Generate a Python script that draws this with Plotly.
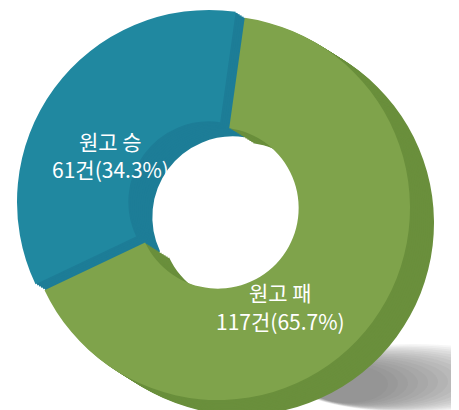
import plotly.graph_objects as go

# ---- data ----
labels = ["원고 패", "원고 승"]
values = [117, 61]
unit = "건"

# ---- style ----
face_colors = ["#7fa34b", "#2088a0"]
side_colors = ["#6a8f3c", "#1d7d97"]
CLEAR = "rgba(0,0,0,0)"

W, H = 459, 410
cx, cy = 210, 200      # front-face centre (px)
r = 192                # front-face radius (px)
hole = 0.42
depth = (24, 15)       # extrusion offset (px)
n_layers = 12
rotation = 8
pull_vec = [(0, 0), (-9, -6)]   # exploded offset of each slice (px)

total = sum(values)
pct = [v / total * 100 for v in values]


def domain(cxp, cyp):
    return dict(x=[(cxp - r) / W, (cxp + r) / W],
                y=[1 - (cyp + r) / H, 1 - (cyp - r) / H])


fig = go.Figure()
common = dict(values=values, labels=labels, hole=hole, sort=False,
              direction="clockwise", rotation=rotation,
              textinfo="none", hoverinfo="skip", showlegend=False)


def slice_trace(i, color, ox, oy):
    cols = [CLEAR] * len(values)
    cols[i] = color
    px, py = pull_vec[i]
    return go.Pie(marker=dict(colors=cols, line=dict(width=0)),
                  domain=domain(cx + px + ox, cy + py + oy), **common)


for k in range(n_layers, 0, -1):
    ox = depth[0] * k / n_layers
    oy = depth[1] * k / n_layers
    for i in range(len(values)):
        fig.add_trace(slice_trace(i, side_colors[i], ox, oy))

for i in range(len(values)):
    fig.add_trace(slice_trace(i, face_colors[i], 0, 0))

# soft shadow at lower right
shapes = []
steps = 16
for s in range(steps):
    t = s / (steps - 1)
    xc = 405 - 65 * t
    yc = 370 + 6 * t
    w = 250 - 170 * t
    h = 68 - 30 * t
    shapes.append(dict(type="circle", xref="paper", yref="paper",
                       x0=(xc - w / 2) / W, x1=(xc + w / 2) / W,
                       y0=1 - (yc + h / 2) / H, y1=1 - (yc - h / 2) / H,
                       fillcolor="rgba(80,80,80,0.05)", line=dict(width=0),
                       layer="below"))

label_pos = [(272, 284, 313), (102, 133, 161)]
annotations = []
for lab, v, p, (ax, y1, y2) in zip(labels, values, pct, label_pos):
    for txt, yy in ((lab, y1), (f"{v}{unit}({p:.1f}%)", y2)):
        annotations.append(dict(
            text=txt, x=ax / W, y=1 - yy / H,
            xref="paper", yref="paper", showarrow=False,
            xanchor="center", yanchor="middle", align="center",
            font=dict(family="Noto Sans CJK KR", size=21, color="white")))

fig.update_layout(width=W, height=H, margin=dict(l=0, r=0, t=0, b=0),
                  paper_bgcolor="white", plot_bgcolor="white",
                  shapes=shapes, annotations=annotations, showlegend=False)

fig.write_html("out.html")
